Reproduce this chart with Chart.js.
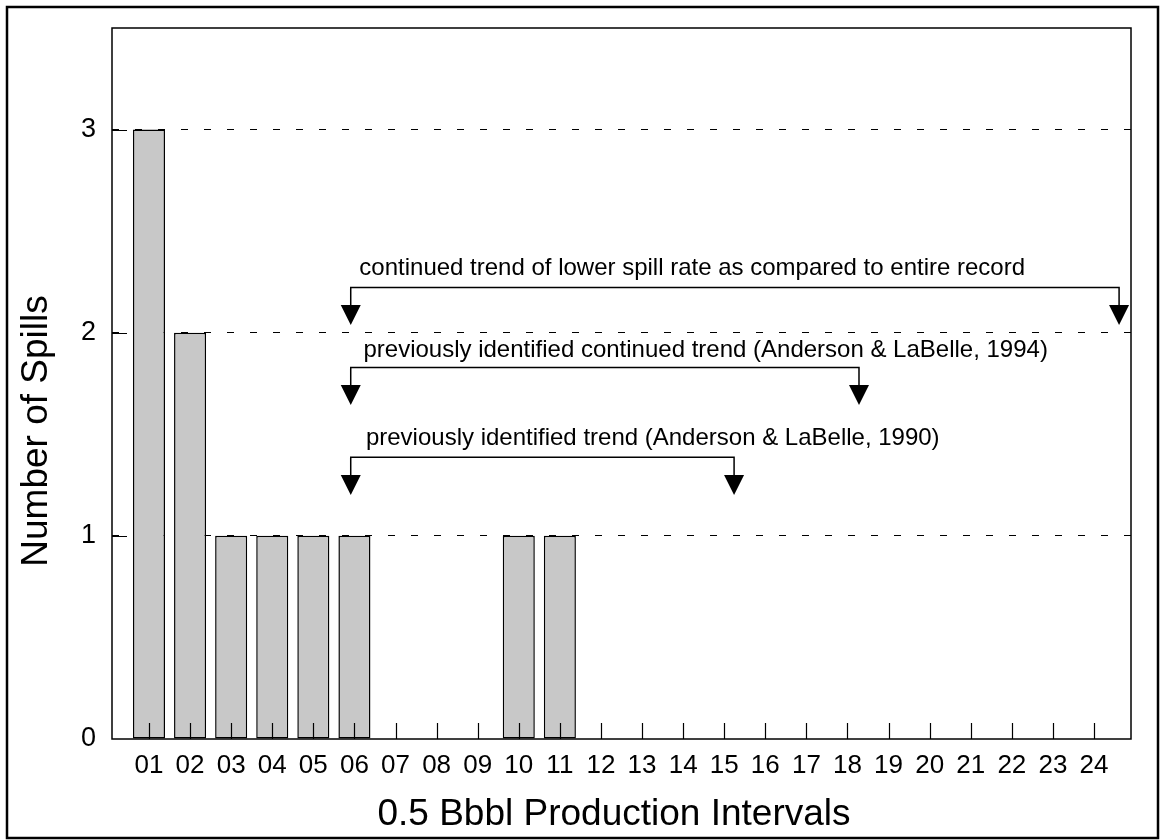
<!DOCTYPE html>
<html>
<head>
<meta charset="utf-8">
<script src="https://cdn.jsdelivr.net/npm/chart.js@4/dist/chart.umd.min.js"></script>
<style>
    html, body { margin: 0; padding: 0; background: #fff; }
    #wrap { width: 1161px; height: 840px; }
</style>
</head>
<body>
<div id="wrap"><canvas id="chart" width="1161" height="840"></canvas></div>
<script>
// production intervals (0.5 Bbbl each) and spill counts
let intervals = ["01", "02", "03", "04", "05", "06", "07", "08", "09", "10", "11", "12",
                 "13", "14", "15", "16", "17", "18", "19", "20", "21", "22", "23", "24"];
let spills = [3, 2, 1, 1, 1, 1, 0, 0, 0, 1, 1, 0, 0, 0, 0, 0, 0, 0, 0, 0, 0, 0, 0, 0];
let yTicks = [0, 1, 2, 3];

// trend brackets, in axis units
let trendText = [
    "continued trend of lower spill rate as compared to entire record",
    "previously identified continued trend (Anderson & LaBelle, 1994)",
    "previously identified trend (Anderson & LaBelle, 1990)"
];
let trendFrom = [5.91, 5.91, 5.91];
let trendTo = [24.61, 18.28, 15.24];
let trendLineY = [2.222, 1.829, 1.387];
let trendTipY = [2.038, 1.644, 1.201];
let trendTextX = [6.12, 6.22, 6.28];
let trendTextY = [2.317, 1.915, 1.480];

const FONT = "'Liberation Sans', Arial, Helvetica, sans-serif";

const decorations = {
    id: "decorations",
    afterDraw(chart) {
        const ctx = chart.ctx;
        const area = chart.chartArea;
        const x = chart.scales.x;
        const y = chart.scales.y;
        ctx.save();
        ctx.strokeStyle = "#000";
        ctx.fillStyle = "#000";

        // plot frame
        ctx.lineWidth = 1.5;
        ctx.strokeRect(area.left, area.top, area.right - area.left, area.bottom - area.top);

        // inward tick marks
        ctx.lineWidth = 1.2;
        ctx.beginPath();
        intervals.forEach((lab, i) => {
            let px = Math.round(x.getPixelForValue(i + 1)) + 0.5;
            ctx.moveTo(px, area.bottom);
            ctx.lineTo(px, area.bottom - 16);
        });
        yTicks.slice(1).forEach(v => {
            let py = Math.round(y.getPixelForValue(v)) + 0.5;
            ctx.moveTo(area.left, py);
            ctx.lineTo(area.left + 15, py);
        });
        ctx.stroke();

        // outer border
        ctx.lineWidth = 2.5;
        ctx.strokeRect(7, 7, 1151, 831);

        // axis titles
        ctx.font = `37px ${FONT}`;
        ctx.textAlign = "center";
        ctx.textBaseline = "middle";
        ctx.fillText("0.5 Bbbl Production Intervals", 614, 815);
        ctx.save();
        ctx.translate(37, 431);
        ctx.rotate(-Math.PI / 2);
        ctx.fillText("Number of Spills", 0, 0);
        ctx.restore();

        // trend brackets
        ctx.font = `24px ${FONT}`;
        ctx.textAlign = "left";
        ctx.lineWidth = 1.5;
        for (let i = 0; i < trendText.length; i++) {
            let x1 = x.getPixelForValue(trendFrom[i]);
            let x2 = x.getPixelForValue(trendTo[i]);
            let ly = y.getPixelForValue(trendLineY[i]);
            let tip = y.getPixelForValue(trendTipY[i]);
            ctx.fillText(trendText[i], x.getPixelForValue(trendTextX[i]), y.getPixelForValue(trendTextY[i]));
            ctx.beginPath();
            ctx.moveTo(x1, tip - 20);
            ctx.lineTo(x1, ly);
            ctx.lineTo(x2, ly);
            ctx.lineTo(x2, tip - 20);
            ctx.stroke();
            [x1, x2].forEach(ax => {
                ctx.beginPath();
                ctx.moveTo(ax - 10, tip - 20);
                ctx.lineTo(ax + 10, tip - 20);
                ctx.lineTo(ax, tip);
                ctx.closePath();
                ctx.fill();
            });
        }
        ctx.restore();
    }
};

new Chart(document.getElementById("chart"), {
    type: "bar",
    data: {
        datasets: [{
            label: "Number of Spills",
            data: spills.map((v, i) => ({x: i + 1, y: v})),
            backgroundColor: "#c8c8c8",
            borderColor: "#000",
            borderWidth: 1.5,
            borderSkipped: false,
            categoryPercentage: 1,
            barPercentage: 0.78
        }]
    },
    options: {
        responsive: false,
        animation: false,
        layout: {padding: {top: 28, right: 30, left: 0, bottom: 0}},
        plugins: {
            legend: {display: false},
            tooltip: {enabled: false}
        },
        scales: {
            x: {
                type: "linear",
                offset: false,
                min: 0.1,
                max: 24.9,
                afterFit: scale => {
                    scale.height = 101;
                    scale.paddingLeft = 0;
                    scale.paddingRight = 0;
                },
                afterBuildTicks: axis => {
                    axis.ticks = intervals.map((lab, i) => ({value: i + 1}));
                },
                grid: {display: false, drawTicks: false},
                border: {display: false},
                ticks: {
                    autoSkip: false,
                    maxRotation: 0,
                    padding: 11,
                    color: "#000",
                    font: {family: FONT, size: 26},
                    callback: value => intervals[value - 1]
                }
            },
            y: {
                min: 0,
                max: 3.5,
                afterFit: scale => {
                    scale.width = 112;
                    scale.paddingTop = 0;
                    scale.paddingBottom = 0;
                },
                afterBuildTicks: axis => {
                    axis.ticks = yTicks.map(v => ({value: v}));
                },
                grid: {
                    drawTicks: false,
                    lineWidth: 1,
                    color: c => (c.tick && c.tick.value > 0) ? "#000" : "rgba(0,0,0,0)"
                },
                border: {display: false, dash: [7, 16]},
                ticks: {
                    padding: 16,
                    color: "#000",
                    font: {family: FONT, size: 27},
                    callback: value => String(value)
                }
            }
        }
    },
    plugins: [decorations]
});
</script>
</body>
</html>
